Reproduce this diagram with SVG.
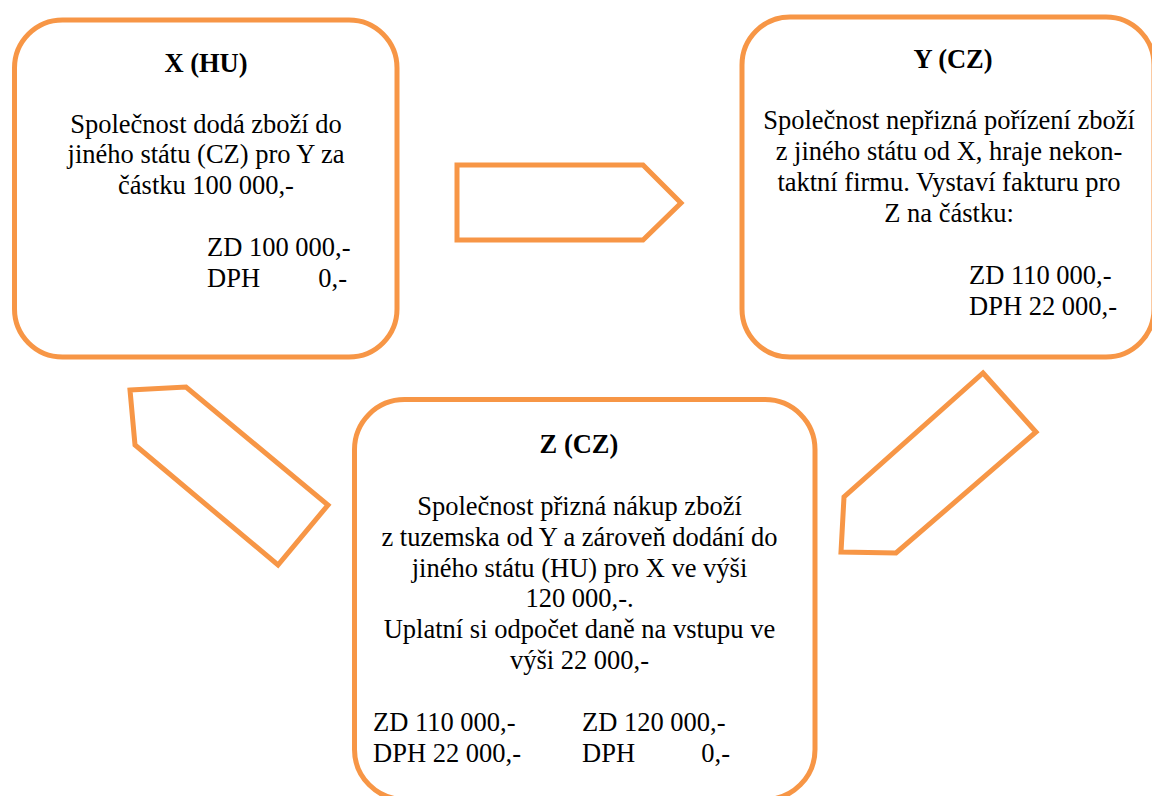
<svg xmlns="http://www.w3.org/2000/svg" width="1152" height="796" viewBox="0 0 1152 796">
<style>
.box{fill:#ffffff;stroke:#F79646;stroke-width:5}
.arr{fill:#ffffff;stroke:#F79646;stroke-width:5;stroke-linejoin:miter}
text{font-family:"Liberation Serif","Times New Roman",serif;font-size:26.5px;fill:#000}
.t{font-weight:bold}
.c{text-anchor:middle}
.e{text-anchor:end}
</style>
<rect width="1152" height="796" fill="#ffffff"/>
<g id="connectors">
<polygon class="arr" points="457,165 643,165 681,203 643,240 457,240"/>
<polygon class="arr" points="130,390 186,387 328,505 278,565 135,445"/>
<polygon class="arr" points="983,373 1036,432 896,553 841,552 844,497"/>
</g>
<g id="nodeX">
<rect class="box" x="14.5" y="20" width="382.5" height="337" rx="48" ry="48"/>
<text class="t c" x="206" y="72">X (HU)</text>
<text class="c" x="206" y="132.5">Společnost dodá zboží do</text>
<text class="c" x="206" y="163">jiného státu (CZ) pro Y za</text>
<text class="c" x="206" y="193.5">částku 100 000,-</text>
<text x="207" y="256">ZD 100 000,-</text>
<text x="207" y="287">DPH</text>
<text class="e" x="347" y="287">0,-</text>
</g>
<g id="nodeY">
<rect class="box" x="742" y="17" width="412" height="340" rx="48" ry="48"/>
<text class="t c" x="953" y="68">Y (CZ)</text>
<text class="c" x="949" y="129">Společnost nepřizná pořízení zboží</text>
<text class="c" x="949" y="160">z jiného státu od X, hraje nekon-</text>
<text class="c" x="949" y="191">taktní firmu. Vystaví fakturu pro</text>
<text class="c" x="949" y="222">Z na částku:</text>
<text x="969" y="284">ZD 110 000,-</text>
<text x="969" y="315">DPH 22 000,-</text>
</g>
<g id="nodeZ">
<rect class="box" x="354.5" y="399.5" width="460.5" height="400" rx="50" ry="50"/>
<text class="t c" x="579" y="453">Z (CZ)</text>
<text class="c" x="579.5" y="515">Společnost přizná nákup zboží</text>
<text class="c" x="579.5" y="545.5">z tuzemska od Y a zároveň dodání do</text>
<text class="c" x="579.5" y="576.5">jiného státu (HU) pro X ve výši</text>
<text class="c" x="579.5" y="607">120 000,-.</text>
<text class="c" x="579.5" y="638">Uplatní si odpočet daně na vstupu ve</text>
<text class="c" x="579.5" y="668.5">výši 22 000,-</text>
<text x="373" y="731">ZD 110 000,-</text>
<text x="373" y="762">DPH 22 000,-</text>
<text x="582" y="731">ZD 120 000,-</text>
<text x="582" y="762">DPH</text>
<text class="e" x="730" y="762">0,-</text>
</g>
</svg>
